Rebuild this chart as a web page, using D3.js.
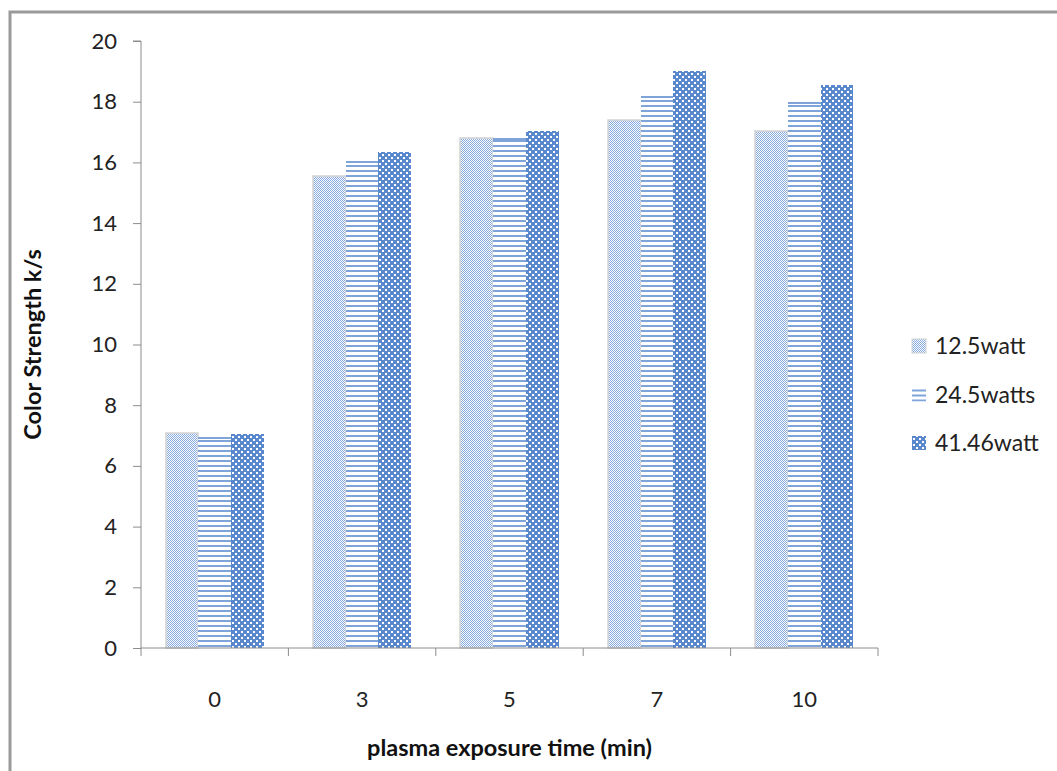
<!DOCTYPE html>
<html lang="en">
<head>
    <meta charset="UTF-8">
    <title>Color Strength vs Plasma Exposure Time</title>
    <script src="https://d3js.org/d3.v7.min.js"></script>
    <style>
        body {
            margin: 0;
            background: #fff;
            font-family: 'Lato', 'Carlito', sans-serif;
        }
        .axis text {
            font-family: 'Lato', sans-serif;
            font-size: 22px;
            fill: #222;
        }
        .axis path, .axis line {
            stroke: #8c8c8c;
        }
    </style>
</head>
<body>
    <svg id="chart" width="1057" height="771"></svg>

    <script>
        // data
        const categories = ["0", "3", "5", "7", "10"];
        const seriesNames = ["12.5watt", "24.5watts", "41.46watt"];
        const watt12_5 = [7.1, 15.55, 16.8, 17.4, 17.05];
        const watt24_5 = [6.95, 16.05, 16.8, 18.2, 18.0];
        const watt41_46 = [7.05, 16.35, 17.05, 19.0, 18.55];
        const yTicks = [0, 2, 4, 6, 8, 10, 12, 14, 16, 18, 20];

        const series = [watt12_5, watt24_5, watt41_46];
        const fills = ["url(#pDots)", "url(#pLines)", "url(#pChecks)"];

        const svg = d3.select("#chart");
        const margin = { left: 141, right: 179, top: 41, bottom: 122 };
        const width = 1057, height = 771;

        // outer frame (only left and top edges visible)
        svg.append("path")
            .attr("d", "M10,771 L10,12 L1057,12")
            .attr("fill", "none")
            .attr("stroke", "#9a9a9a")
            .attr("stroke-width", 3);

        // patterns
        const defs = svg.append("defs");

        const p1 = defs.append("pattern").attr("id", "pDots")
            .attr("width", 2).attr("height", 2).attr("patternUnits", "userSpaceOnUse");
        p1.append("rect").attr("width", 2).attr("height", 2).attr("fill", "#ffffff");
        p1.append("rect").attr("width", 1).attr("height", 1).attr("fill", "#86a9de");
        p1.append("rect").attr("x", 1).attr("y", 1).attr("width", 1).attr("height", 1).attr("fill", "#86a9de");

        const p2 = defs.append("pattern").attr("id", "pLines")
            .attr("width", 6).attr("height", 5).attr("patternUnits", "userSpaceOnUse");
        p2.append("rect").attr("width", 6).attr("height", 5).attr("fill", "#ffffff");
        p2.append("rect").attr("y", 0).attr("width", 6).attr("height", 2).attr("fill", "#7fa4da");

        const p3 = defs.append("pattern").attr("id", "pChecks")
            .attr("width", 6).attr("height", 6).attr("patternUnits", "userSpaceOnUse");
        p3.append("rect").attr("width", 6).attr("height", 6).attr("fill", "#5a88cc");
        p3.append("rect").attr("x", 1).attr("y", 1).attr("width", 2).attr("height", 2).attr("fill", "#ffffff");
        p3.append("rect").attr("x", 4).attr("y", 4).attr("width", 2).attr("height", 2).attr("fill", "#ffffff");

        // scales
        const x0 = d3.scaleBand()
            .domain(categories)
            .range([margin.left, width - margin.right])
            .paddingInner(0)
            .paddingOuter(0);

        const x1 = d3.scaleBand()
            .domain(seriesNames)
            .range([0, x0.bandwidth()])
            .paddingOuter(0.75)
            .paddingInner(0);

        const y = d3.scaleLinear()
            .domain([0, 20])
            .range([height - margin.bottom - 1, margin.top]);

        // bars (pixel-snapped so the patterns stay crisp)
        const bx = d => Math.round(x0(d.c) + x1(d.s));
        const bw = d => Math.round(x0(d.c) + x1(d.s) + x1.bandwidth()) - bx(d);

        const groups = svg.append("g").selectAll("g")
            .data(categories)
            .join("g");

        const cells = groups.selectAll("g")
            .data((d, i) => seriesNames.map((s, j) => ({ c: d, s, j, v: series[j][i] })))
            .join("g");

        cells.append("rect")
            .attr("x", bx)
            .attr("y", d => Math.round(y(d.v)))
            .attr("width", bw)
            .attr("height", d => Math.round(y(0)) - Math.round(y(d.v)))
            .attr("fill", d => fills[d.j])
            .attr("stroke", d => d.j === 0 ? "#d4d4d4" : "none")
            .attr("stroke-width", 1.5);

        // top edge line on the striped bars
        cells.filter(d => d.j === 1)
            .append("rect")
            .attr("x", bx)
            .attr("y", d => Math.round(y(d.v)))
            .attr("width", bw)
            .attr("height", 2)
            .attr("fill", "#7fa4da");

        // y axis
        svg.append("g")
            .attr("class", "axis")
            .attr("transform", `translate(${margin.left},0)`)
            .call(d3.axisLeft(y).tickValues(yTicks).tickSize(8).tickPadding(16))
            .call(g => g.selectAll(".domain").attr("d", `M-8,${y(20)}H0V${y(0)}`));

        // x axis: ticks at category boundaries
        const xAxis = svg.append("g")
            .attr("class", "axis")
            .attr("transform", `translate(0,${y(0)})`);
        xAxis.append("line")
            .attr("x1", margin.left).attr("x2", width - margin.right)
            .attr("stroke", "#8c8c8c");
        const bounds = categories.map(c => x0(c)).concat([x0(categories[categories.length - 1]) + x0.bandwidth()]);
        xAxis.selectAll(".bt")
            .data(bounds)
            .join("line")
            .attr("class", "bt")
            .attr("x1", d => d).attr("x2", d => d)
            .attr("y1", 0).attr("y2", 8)
            .attr("stroke", "#8c8c8c");
        xAxis.selectAll(".lbl")
            .data(categories)
            .join("text")
            .attr("class", "lbl")
            .attr("x", d => x0(d) + x0.bandwidth() / 2)
            .attr("y", 59)
            .attr("text-anchor", "middle")
            .text(d => d);

        // axis titles
        svg.append("text")
            .attr("transform", `translate(41,${(y(0) + y(20)) / 2}) rotate(-90)`)
            .attr("text-anchor", "middle")
            .style("font-weight", "bold")
            .style("font-size", "23.5px")
            .attr("fill", "#111")
            .text("Color Strength k/s");

        svg.append("text")
            .attr("x", (margin.left + width - margin.right) / 2)
            .attr("y", 756)
            .attr("text-anchor", "middle")
            .style("font-weight", "bold")
            .style("font-size", "23.5px")
            .attr("fill", "#111")
            .text("plasma exposure time (min)");

        // legend
        const legend = svg.append("g").attr("transform", "translate(912,346)");
        const items = legend.selectAll("g")
            .data(seriesNames)
            .join("g")
            .attr("transform", (d, i) => `translate(0,${i * 48.5})`);
        items.append("rect")
            .attr("x", 0).attr("y", -7)
            .attr("width", 14).attr("height", 14)
            .attr("fill", (d, i) => fills[i])
            .attr("stroke", (d, i) => i === 0 ? "#d4d4d4" : "none");
        items.append("text")
            .attr("x", 23)
            .attr("y", 8)
            .style("font-size", "23px")
            .attr("fill", "#222")
            .text(d => d);
    </script>
</body>
</html>
